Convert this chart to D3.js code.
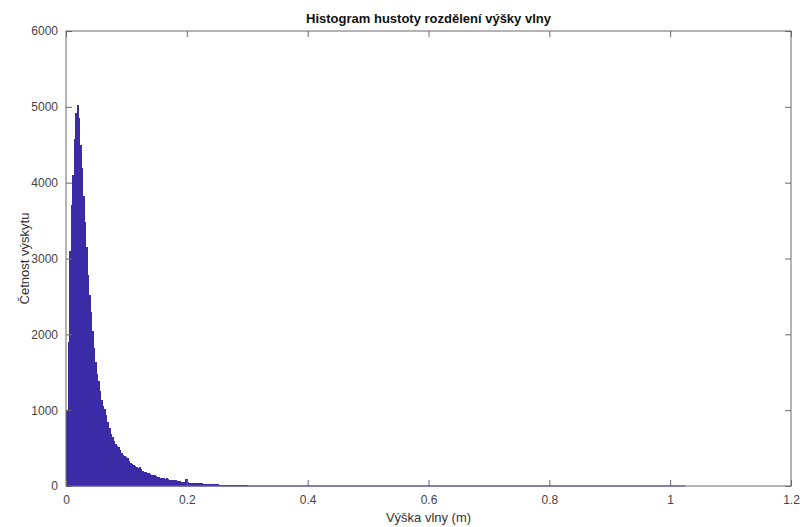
<!DOCTYPE html>
<html><head><meta charset="utf-8">
<script src="https://cdn.jsdelivr.net/npm/d3@7"></script>
<style>body{margin:0;background:#fff}svg{display:block}text{font-family:"Liberation Sans",Arial,sans-serif}</style>
</head><body>
<script>
const title = "Histogram hustoty rozdělení výšky vlny";
const xLabel = "Výška vlny (m)";
const yLabel = "Četnost výskytu";
const xTicks = [0, 0.2, 0.4, 0.6, 0.8, 1, 1.2];
const yTicks = [0, 1000, 2000, 3000, 4000, 5000, 6000];
// fine bins 0 .. 0.3, width 0.0025
const binWidth = 0.0025;
const counts = [
 1000,1900,3100,3700,4100,4580,4920,5020,4850,4500,
 4200,3820,3480,3150,2780,2520,2300,2050,1820,1640,
 1480,1380,1250,1130,1060,1010,930,850,760,690,
 640,600,560,530,510,470,430,410,400,385,
 370,330,300,290,275,260,245,240,250,230,
 200,190,185,175,165,160,150,145,140,130,
 125,118,110,105,100,98,100,92,85,82,
 80,78,75,72,66,60,58,55,52,95,
 48,45,43,41,40,38,36,35,34,33,
 31,30,29,28,27,26,25,24,22,21,
 20,19,18,18,17,16,15,15,14,14,
 13,12,12,11,11,10,10,9,9,8];
// tail bins 0.3 .. 1.025, width 0.025
const tailStart = 0.3, tailWidth = 0.025;
const tailCounts = [6,5,4,3,3,2,2,2,1,1,1,1,1,1,1,1,1,1,1,1,1,1,1,1,1,1,1,1,1];

const W = 802, H = 527;
const m = {left:66, right:11, top:31, bottom:41};
const svg = d3.select("body").append("svg").attr("width", W).attr("height", H);
const x = d3.scaleLinear().domain([0, 1.2]).range([m.left, W - m.right]);
const y = d3.scaleLinear().domain([0, 6000]).range([H - m.bottom, m.top]);

const bins = counts.map((c,i)=>({x0:i*binWidth, x1:(i+1)*binWidth, c}))
  .concat(tailCounts.map((c,i)=>({x0:tailStart+i*tailWidth, x1:tailStart+(i+1)*tailWidth, c})));

const barColor = "#3b2ba6";
svg.append("g").attr("shape-rendering","crispEdges").selectAll("rect").data(bins).join("rect")
  .attr("x", d=>x(d.x0)).attr("width", d=>x(d.x1)-x(d.x0)+0.7)
  .attr("y", d=>y(d.c)).attr("height", d=>y(0)-y(d.c))
  .attr("fill", barColor);

const axisColor = "#6a6a6a", textColor = "#444";
const tl = 6;
const gx = svg.append("g").attr("transform", `translate(0,${y(0)})`)
  .call(d3.axisBottom(x).tickValues(xTicks).tickFormat(d3.format("~g")).tickSizeInner(-tl).tickSizeOuter(0).tickPadding(9));
const gxt = svg.append("g").attr("transform", `translate(0,${y(6000)})`)
  .call(d3.axisTop(x).tickValues(xTicks).tickFormat("").tickSizeInner(-tl).tickSizeOuter(0));
const gy = svg.append("g").attr("transform", `translate(${x(0)},0)`)
  .call(d3.axisLeft(y).tickValues(yTicks).tickFormat(d3.format("d")).tickSizeInner(-tl).tickSizeOuter(0).tickPadding(8));
const gyr = svg.append("g").attr("transform", `translate(${x(1.2)},0)`)
  .call(d3.axisRight(y).tickValues(yTicks).tickFormat("").tickSizeInner(-tl).tickSizeOuter(0));
[gx,gxt,gy,gyr].forEach(g=>{
  g.select(".domain").remove();
  g.selectAll("line").attr("stroke", axisColor);
  g.selectAll("text").attr("fill", textColor).style("font-size","12px").style("font-family","'Liberation Sans',Arial,sans-serif");
});
svg.append("rect").attr("x", x(0)).attr("y", y(6000)).attr("width", x(1.2)-x(0)).attr("height", y(0)-y(6000))
  .attr("fill","none").attr("stroke", axisColor).attr("stroke-width", 1);
// baseline segment of bar outlines
svg.append("line").attr("x1", x(bins[0].x0)).attr("x2", x(bins[bins.length-1].x1))
  .attr("y1", y(0)).attr("y2", y(0)).attr("stroke", "#5548b5").attr("stroke-width", 1.2);

svg.append("text").attr("x", (x(0)+x(1.2))/2).attr("y", 23).attr("text-anchor","middle")
  .style("font-size","13px").style("font-weight","bold").attr("fill","#111").text(title);
svg.append("text").attr("x", (x(0)+x(1.2))/2).attr("y", 522).attr("text-anchor","middle")
  .style("font-size","13px").attr("fill","#333").text(xLabel);
svg.append("text").attr("transform", `translate(29,${(y(0)+y(6000))/2}) rotate(-90)`).attr("text-anchor","middle")
  .style("font-size","13px").attr("fill","#333").text(yLabel);
</script>
</body></html>
